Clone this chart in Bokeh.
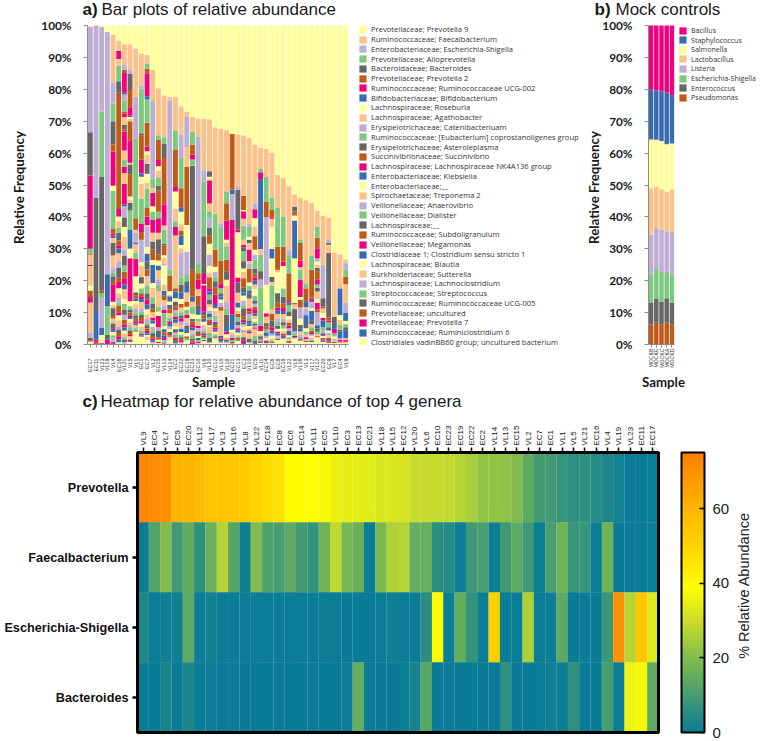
import numpy as np
from bokeh.plotting import figure
from bokeh.layouts import row, column
from bokeh.embed import file_html
from bokeh.resources import INLINE
from bokeh.models import (Legend, LegendItem, Label, ColumnDataSource, FixedTicker, ColorBar,
                          LinearColorMapper, Range1d)
from bokeh.core.properties import value

# colour codes of the repeating palette
Y, P, L, G, K, B, M, U = range(8)
ACCENT = ["#ffff99", "#fdc086", "#beaed4", "#7fc97f", "#666666", "#bf5b17", "#f0027f", "#386cb0"]

TAXA = ["Prevotellaceae; Prevotella 9", "Ruminococcaceae; Faecalbacterium", "Enterobacteriaceae; Escherichia-Shigella",
        "Prevotellaceae; Alloprevotella", "Bacteroidaceae; Bacteroides", "Prevotellaceae; Prevotella 2",
        "Ruminococcaceae; Ruminococcaceae UCG-002", "Bifidobacteriaceae; Bifidobacterium", "Lachnospiraceae; Roseburia",
        "Lachnospiraceae; Agathobacter", "Erysipelotrichaceae; Catenibacteriuam",
        "Ruminococcaceae; [Eubacterium] coprostanoligenes group", "Erysipelotrichaceae; Asteroleplasma",
        "Succinivibrionaceae; Succinivibrio", "Lachnospiraceae; Lachnospiraceae NK4A136 group",
        "Enterobacteriaceae; Klebsiella", "Enterobacteriaceae;__", "Spirochaetaceae; Treponema 2",
        "Veillonellaceae; Anaerovibrio", "Veillonellaceae; Dialister", "Lachnospiraceae;__",
        "Ruminococcaceae; Subdoligranulum", "Veillonellaceae; Megamonas", "Clostridiaceae 1; Clostridium sensu stricto 1",
        "Lachnospiraceae; Blautia", "Burkholderiaceae; Sutterella", "Lachnospiraceae; Lachnoclostridium",
        "Streptococcaceae; Streptococcus", "Ruminococcaceae; Ruminococcaceae UCG-005", "Prevotellaceae; uncultured",
        "Prevotellaceae; Prevotella 7", "Ruminococcaceae; Ruminiclostridium 6",
        "Clostridiales vadinBB60 group; uncultured bacterium"]

# each bar, read top-down as colour, percent pairs
EC17 = [Y,.3,L,33.2,K,13.5,M,23,G,1.5,B,.4,P,3.2,M,.3,P,6.2,Y,1.5,B,2,M,1.8,P,9.5,L,1,G,.5,B,.4,M,.4,U,.4]
EC11 = [L,54,K,35.5,U,9,M,.6,B,.5,M,.4]
VL23 = [Y,.5,L,26.5,G,20.5,K,35.5,B,1,G,1.5,L,9.2,U,2.3,Y,2.5,M,.3]
VL19 = [Y,2,L,76,U,10,G,9,K,1.5,M,1.4]
VL4 = [Y,3,P,15,L,6.5,G,5.5,K,7.2,B,2.3,M,10.7,Y,1.6,G,12,B,1.5,M,.6,U,.7,P,1.5,K,3.5,B,.5,P,4,L,1.5,G,1,K,1.5,B,1,M,5.5,Y,1,P,1,K,2.5,B,.8,P,1.5,K,1.5,M,.6,U,.6,Y,1,G,1,L,1,B,.5,M,.4]
EC16 = [Y,4.8,P,3.2,M,2.5,P,2,G,5,K,3.6,B,36.4,M,2.4,Y,1.5,P,2,G,1.5,K,2.5,B,1.5,M,1,U,1.5,P,2.5,L,2,K,3,B,1.5,M,2,Y,1.5,P,1.5,L,1.5,G,1,B,2,M,1,Y,1.5,P,2,L,1,K,1,B,1,M,1,U,1]
VL21 = [Y,5.9,P,6.5,L,1.5,B,1,M,6.2,U,.5,L,2,G,3.5,B,.6,M,1,P,2.5,K,1.5,B,.5,M,6,P,3,G,2,M,2,P,3.5,M,6.5,U,.5,L,3.5,K,3,Y,3,P,4,L,2,K,3,G,2,B,2,M,2,U,1.5,P,3,Y,1.5,G,2,K,1.5,L,1.5,B,1.5,M,1,U,1,Y,1,P,1,G,.8,K,.7,L,.6,M,.4]
VL5 = [Y,5.9,P,7.8,L,1.5,K,5,B,5.4,M,2.7,U,.4,Y,.6,P,.7,B,6,M,7,P,.6,K,3,B,7,Y,1,P,1,K,2.4,G,6,U,6,Y,3,M,13.5,Y,1.5,G,1.2,K,.8,B,.8,M,.6,U,.6,Y,1,P,1,L,.6,G,1,K,.8,B,.6,M,.5,P,.6,L,.4,K,.5,M,.3]
VL1 = [Y,7.2,P,15.1,L,13.2,G,24.9,B,3.6,P,1,L,3,K,.6,P,2.5,G,2,M,5.5,Y,5,K,1,B,1,U,.8,Y,1,P,1.5,L,1,G,1,K,1,B,.8,M,.6,U,.6,P,1,G,.6,B,.5,Y,.4]
EC1 = [Y,8.8,P,10.2,L,.8,G,14,K,.6,B,7.6,M,4.4,U,1,Y,2.2,P,4.6,G,7.9,M,2.6,B,2.5,L,7,Y,1.2,P,3.5,K,2,Y,1.5,G,1.5,B,1,M,.8,U,1,P,2,L,1,G,1,K,1,B,1,M,.8,Y,1,P,1,L,.6,G,.6,K,.5,M,.4]
EC7 = [Y,9.2,P,2.8,G,1.5,B,1.5,M,7.2,U,1,G,7.3,B,7.4,M,1.5,Y,1,P,3,K,3.1,Y,2.7,P,2,G,6,B,2.7,M,2.6,P,.5,L,6.5,Y,2,U,2.5,K,2.5,B,2,P,3,G,2.5,K,2,M,1.5,U,1.5,Y,1.5,P,1.5,L,1,G,1,K,1,B,.8,M,.7,U,.6,Y,.5,P,.5,L,.4]
VL2 = [Y,13.9,P,9.5,L,24.6,G,3,P,1.5,M,4.2,Y,1.6,G,2.7,M,4,P,2.7,K,2.6,B,3.2,Y,1.5,U,5.8,Y,1.5,P,3,G,2,K,1.5,B,1.2,P,1.5,M,1,U,1,Y,1,L,1,G,1,K,.8,B,.8,M,.6,U,.5,P,.5,L,.4]
EC15 = [Y,19.7,P,14.7,G,1.3,B,6.5,M,1.9,Y,1.5,P,2,G,2.6,K,1.6,B,6.6,G,2,M,4.6,P,2,K,4.7,B,2,Y,1.5,U,1.5,P,3,L,2,G,1.5,P,5,G,1.5,Y,1.3,M,3.7,L,1,K,1,U,1,B,.8,Y,.6,M,.4]
VL13 = [Y,21.9,P,13.1,G,2,K,4.5,B,14.5,M,6.7,P,1.3,G,4.5,K,.5,B,3,Y,.7,P,2,L,.5,Y,6,P,2,U,1.5,B,1.5,P,1.5,L,1.5,M,1,G,4,Y,1,K,1,B,1,U,.8,M,.7,L,.5,G,.5,K,.4,P,.4]
VL14 = [Y,22.3,P,1.4,L,52.7,G,2,B,4.9,Y,1,P,.6,U,1.6,Y,1,K,1.5,B,1.2,P,1.5,G,1,M,.8,U,.8,L,1,Y,.8,K,.6,B,.5,M,.4,P,.4]
EC2 = [Y,22.3,P,10.5,G,6.2,B,11.6,M,1.4,Y,5.4,P,4,G,1.8,M,2.6,P,16.6,B,1,U,2.1,Y,1,K,1.5,B,1.2,L,1,G,1.2,M,.8,U,1,P,1.2,Y,.8,K,1,L,.7,G,.8,B,.6,M,.5,U,.5,K,.4,Y,.3]
EC22 = [Y,25.3,P,8.9,L,7.3,G,9.5,B,6,U,1.4,Y,3.9,P,2,B,1.5,U,3,Y,1,P,1.5,L,7.7,G,2.2,K,2.5,U,2,Y,1.5,B,1.2,P,1.5,G,1,K,1,M,1,L,1,P,1.2,U,1,Y,.8,G,.8,K,.6,B,.6,M,.5,L,.4]
EC19 = [Y,27.1,P,1.6,L,9.5,P,6.1,B,18.2,Y,8.4,L,7.3,G,2,K,1.5,U,2,P,3,B,1.5,Y,1,G,1.5,M,1,P,1.5,L,1,K,1.2,U,1,Y,1,B,.8,G,.6]
EC23 = [Y,28.6,P,4.6,G,4.1,B,3.2,M,1.5,G,2,K,32.6,B,8.4,U,1.6,P,1.6,G,2.2,Y,1.5,K,1,B,1,M,.8,U,.8,P,1,L,.8,G,.8,K,.7,B,.6,M,.5]
EC10 = [Y,29.2,P,5.7,L,39.6,G,3.2,B,2,M,3,P,2,B,3,K,1.5,U,1.5,Y,1.2,G,1,P,1.2,M,.8,L,1,K,.8,B,.7,Y,.6,U,.6,G,.5,M,.4,P,.4]
VL6 = [Y,29.2,P,16.2,L,3.4,G,17.3,K,11.8,M,3.1,Y,.4,M,8.3,K,1.2,B,1,U,1,Y,1,P,1,L,.8,G,.8,M,.6,K,.6,B,.5,Y,.4,U,.4]
VL20 = [Y,29.4,P,16.3,K,1.7,Y,.7,P,.5,M,7.2,P,2.4,G,2.1,L,3,K,2.6,B,2.5,Y,3.4,L,3.6,Y,2,P,1.5,B,3.5,M,1,U,1,G,1.5,K,1.5,P,1,Y,1,L,1,U,1,G,.8,B,.7,M,.6,K,.5,Y,.4,P,2,G,1.5,K,1.5]
EC12 = [Y,31.9,P,27.1,G,11.3,B,5.3,Y,1.6,L,1.5,G,1.5,K,2,B,2.2,M,3.2,U,1,Y,.8,P,1.5,G,1,L,1,K,1,B,.8,M,.7,U,.6,Y,.5,P,.5,G,.5,K,.4,L,.3]
VL15 = [Y,32.4,P,29.6,L,1.5,G,10.2,B,7.1,M,1.6,G,1.5,K,1,U,1,Y,1,L,1.3,B,1.2,P,7.9,K,.8,M,.5,U,.5,L,.4]
VL18 = [Y,32.8,P,19.4,G,3.5,B,5.5,M,6,Y,1,P,1,G,4.2,B,3.6,K,2.7,Y,2,P,5,L,2,G,2,K,3.2,U,2,M,1,Y,.8,P,.8,K,.6,L,.6]
EC21 = [Y,33.9,B,17.6,U,1.3,L,8.2,M,29.7,U,4.7,Y,.8,P,.8,L,.8,K,.5,M,.4,G,.5,B,.5]
EC13 = [Y,34.2,P,16.2,L,1.1,K,12.5,M,.8,Y,14.2,M,1.6,K,3.2,P,3,U,1.6,Y,1,P,1,B,1,G,1.5,K,1,L,1,M,.7,U,.7,Y,.6,P,.6,G,.5,B,.4,K,.4]
EC3 = [Y,34.4,P,19,B,4.4,Y,.4,M,2.4,P,2.2,G,4.4,P,1.6,M,.8,K,1.2,G,3.1,K,2.3,Y,1,P,2,B,3,K,1.5,U,1,Y,1.5,L,1.5,G,1,K,2.5,B,1,M,.8,U,.7,P,1,Y,.6,L,.5,G,.4,P,1.5,K,1,M,.8,U,.5]
VL10 = [Y,35.2,P,27,L,.8,G,3.2,Y,1,K,1,P,2,M,3.6,P,1,L,1.5,B,4.3,Y,1,G,1.5,U,1,K,1.5,P,3,M,1,B,1,L,1,G,1,K,.8,U,.8,Y,.7,P,.6,B,.5,M,.4,L,.3,P,1.5,K,1,G,.5]
EC5 = [Y,37.3,P,18.4,L,1.9,M,2.8,Y,2.8,P,2.9,B,4.2,Y,1.5,L,1.5,G,3,K,1.5,B,1.2,M,1,U,1.2,P,1.5,Y,2,G,1.5,K,1,L,1,B,1,M,1,U,.8,P,1,Y,.8,G,.7,K,.6,L,.5,B,.4,M,.3,P,2,G,1.5,K,1]
VL11 = [Y,38.4,P,6.6,G,1,M,2.1,U,22,P,1.7,G,5.2,K,2.6,L,2.6,G,12,M,1.6,Y,.8,P,.8,K,.6,B,.5,L,.5,U,.5]
EC14 = [Y,38.7,P,8.8,G,7.8,B,4.7,L,21.3,Y,8.9,M,1.1,P,2,K,1,B,1,G,1,U,1,L,.8,Y,.6,M,.5,K,.4]
EC6 = [Y,40,P,14.1,G,3.7,B,2.3,M,.5,P,2.5,Y,7,U,2.9,Y,5.8,K,1.6,P,1.2,G,7.3,P,1.5,B,2.1,K,2.1,M,1,U,1,L,.8,Y,.7,P,.6,G,.5,B,.4]
EC8 = [Y,46.8,P,10.4,G,12.1,B,7.3,P,.8,Y,6.5,K,3,B,1.5,M,1,U,1,P,1.5,L,1,G,1.2,K,1,Y,.8,M,.7,U,.6,P,.5,L,.5,B,.4]
EC18 = [Y,47.8,P,12.1,G,9.4,B,4.7,M,1.4,Y,7,G,2.6,K,2.1,B,1.4,M,1,U,1,P,1.5,L,1,K,1,G,1,Y,.8,P,.7,B,.6,M,.5,U,.4,L,.4]
VL22 = [Y,50.4,P,19.9,L,1.7,G,5.7,B,8.7,M,.4,U,.8,G,2,K,1.5,Y,1,P,1,B,1,M,.8,L,.8,K,.7,U,.7,Y,.6,G,.6,P,.5,B,.4,M,.3]
VL8 = [Y,53,P,3.5,L,.3,K,1.5,B,1,M,.3,Y,1.5,U,11.9,Y,14,B,.4,P,1.5,K,7,L,.8,G,.6,M,.4,U,.4]
VL16 = [Y,54.1,P,12.9,G,1.2,B,5.5,M,2.1,P,.8,G,3.2,M,5.3,Y,.8,B,2.5,L,3.5,Y,2,K,1,U,1,P,1,L,.7,G,.5,M,.4,K,.3]
VL3 = [Y,54.8,P,26,G,1.6,B,3.7,K,.6,U,1.6,P,.4,L,2.1,U,3.1,K,1,Y,1,G,1,P,.8,M,.6,L,.5,B,.5]
VL17 = [Y,55.5,P,16.7,G,4.4,B,8.7,K,.5,M,.8,L,2,Y,.8,U,3.2,K,1,P,1,G,1,B,.8,M,.5,L,.5,Y,.4,P,1,U,.5]
VL12 = [Y,58,P,5,G,3.5,B,3.3,M,3.2,L,1,Y,1,P,1,K,1,B,2.6,M,1.6,G,1,K,1.2,P,2.5,Y,1,M,2.1,B,1,L,4,U,1,K,1,G,.8,P,.6,M,.4]
EC20 = [Y,59.6,P,15.4,L,10.5,K,2.6,B,.6,P,1.5,Y,1.5,M,.8,U,2,G,1,L,1,K,.8,Y,.6,B,.5,M,.4,U,.4]
EC9 = [Y,60.2,P,6.8,L,1.2,K,.5,P,2.6,K,20.2,B,1,M,.6,G,1.5,U,1,Y,.8,L,.8,P,.8,K,.6,B,.5,M,.4]
VL7 = [Y,71.1,P,20.2,K,2.6,U,1.2,M,1.4,G,1,Y,.6,L,.6,P,.5,B,.4]
EC4 = [Y,71.7,P,10.7,U,8.4,Y,1.5,P,1.5,G,1.6,K,.6,U,2,L,.6,M,.5,B,.3]
VL9 = [Y,73.3,P,1.2,L,2.1,G,2.1,B,2.4,P,5.9,L,3,U,2.6,Y,1,G,1,K,.9,U,2.5,P,.6,M,.5,B,.3]

SAMPLES = ["EC17","EC11","VL23","VL19","VL4","EC16","VL21","VL5","VL1","EC1","EC7","VL2","EC15","VL13","VL14","EC2",
           "EC22","EC19","EC23","EC10","VL6","VL20","EC12","VL15","VL18","EC21","EC13","EC3","VL10","EC5","VL11","EC14",
           "EC6","EC8","EC18","VL22","VL8","VL16","VL3","VL17","VL12","EC20","EC9","VL7","EC4","VL9"]
BARS = [EC17,EC11,VL23,VL19,VL4,EC16,VL21,VL5,VL1,EC1,EC7,VL2,EC15,VL13,VL14,EC2,EC22,EC19,EC23,EC10,VL6,VL20,EC12,VL15,
        VL18,EC21,EC13,EC3,VL10,EC5,VL11,EC14,EC6,EC8,EC18,VL22,VL8,VL16,VL3,VL17,VL12,EC20,EC9,VL7,EC4,VL9]

# mock controls, bottom to top
MOCKS = ["MOCKB", "MOCKE", "MOCKC", "MOCKA", "MOCKD"]
MOCK_TAXA = ["Pseudomonas", "Enterococcus", "Escherichia-Shigella", "Listeria", "Lactobacillus", "Salmonella", "Staphylococcus", "Bacillus"]
Pseudomonas = [6.3, 6.8, 6.2, 6.8, 6.2]
Enterococcus = [6.7, 7.5, 7.3, 7.7, 7.0]
Escherichia = [9.0, 9.4, 9.2, 8.3, 8.8]
Listeria = [12.5, 12.8, 13.3, 12.7, 13.3]
Lactobacillus = [14.5, 13.0, 12.7, 12.5, 13.4]
Salmonella = [15.3, 14.7, 15.1, 14.8, 14.3]
Staphylococcus = [15.7, 15.4, 15.6, 16.2, 15.2]
Bacillus = [20.0, 20.4, 20.6, 21.0, 21.8]
MOCK_VALUES = [Pseudomonas, Enterococcus, Escherichia, Listeria, Lactobacillus, Salmonella, Staphylococcus, Bacillus]
MOCK_COLORS = [ACCENT[B], ACCENT[K], ACCENT[G], ACCENT[L], ACCENT[P], ACCENT[Y], ACCENT[U], ACCENT[M]]

# heat map
HEAT_SAMPLES = SAMPLES[::-1]
GENERA = ["Prevotella", "Faecalbacterium", "Escherichia-Shigella", "Bacteroides"]
Prevotella = [73,72,71,60,59.6,58,55.5,54.8,54.1,53,50.4,47.8,46.8,40,38.7,38.4,37.3,35.2,34.4,34.2,33.9,32.8,32.4,31.9,29.4,29.2,29.2,28.6,27.1,25.3,22.3,22.3,21.9,19.7,13.9,9.2,8.8,7.2,5.9,5.9,4.8,3,2,.5,0,.3]
Faecalbacterium = [.5,12,20,9,14.5,6,16,27,12.5,1,20,11,10,14,9,7,17,28,18,16,.5,19,26,27,15,15.5,5.5,4.5,.5,8.5,10,.3,9,14,8.5,.5,10,17,7.5,7.5,.5,17,0,0,0,.3]
Escherichia_Shigella = [3.5,.3,1,1,14,.3,1.5,.3,.3,.3,.8,.3,.3,.3,.3,.2,.8,.3,.2,.2,.2,.3,1,.3,.3,5.5,40,.3,15,7,.3,51,.3,.3,26,.3,.3,14,.2,.2,.2,8,70,27,55,33]
Bacteroides = [.3,.2,2.5,.3,3,.3,.3,.2,.3,.2,.2,.2,.2,.2,.2,.2,.2,.2,.3,15,.2,.2,.2,.3,2.5,13,.2,.2,.2,.2,.2,.2,6,.2,.2,.3,1,.5,6,.2,.2,10,.3,36,37,14]
HEAT = [Prevotella, Faecalbacterium, Escherichia_Shigella, Bacteroides]

CMAP_STOPS = [0, 10, 20, 30, 39, 50, 62, 75]
CMAP_COLORS = [(10,124,151), (72,158,112), (130,188,78), (205,222,42), (255,255,0), (255,212,0), (255,175,0), (255,128,0)]

TICK = "Lato"
SANS = "Liberation Sans"
NOTE = "Open Sans"
GRAY = "#8c8c8c"
DARK = "#1a1a1a"


def make_fig(w, h, left, right, bottom, top, x_px, y_px, x_loc="below"):
    """Figure whose frame fills the canvas; data (left..right, bottom..top) sits at pixel box x_px, y_px."""
    ux = (x_px[1] - x_px[0]) / (right - left)
    uy = (y_px[1] - y_px[0]) / (top - bottom)
    xr = Range1d(left - x_px[0] / ux, right + (w - x_px[1]) / ux)
    yr = Range1d(bottom - (h - y_px[1]) / uy, top + y_px[0] / uy)
    p = figure(width=w, height=h, x_range=xr, y_range=yr, output_backend="svg", toolbar_location=None,
               x_axis_location=x_loc,
               min_border=0, min_border_left=0, min_border_right=0, min_border_top=0, min_border_bottom=0)
    p.grid.visible = False
    p.outline_line_color = None
    return p


def style_bar_axes(p, n, names, xsize, xstand):
    ax, ay = p.xaxis[0], p.yaxis[0]
    ax.fixed_location = 0
    ay.fixed_location = 0
    ax.bounds = (0, n)
    ay.bounds = (0, 100)
    ay.ticker = FixedTicker(ticks=list(range(0, 101, 10)))
    ay.major_label_overrides = {i: f"{i}%" for i in range(0, 101, 10)}
    ay.major_label_text_font = TICK
    ay.major_label_text_font_style = "bold"
    ay.major_label_text_font_size = "11.8px"
    ay.major_label_text_color = DARK
    ay.major_label_standoff = 12
    ay.major_tick_out = 4
    ay.major_tick_in = 0
    ay.minor_tick_line_color = None
    ay.axis_line_color = GRAY
    ay.major_tick_line_color = GRAY
    ax.ticker = FixedTicker(ticks=[i + .5 for i in range(n)])
    ax.major_label_overrides = {i + .5: names[i] for i in range(n)}
    ax.major_label_orientation = np.pi / 2
    ax.major_label_text_font = SANS
    ax.major_label_text_font_size = xsize
    ax.major_label_text_color = "#333333"
    ax.major_label_standoff = xstand
    ax.major_tick_out = 3
    ax.major_tick_in = 0
    ax.minor_tick_line_color = None
    ax.axis_line_color = GRAY
    ax.major_tick_line_color = GRAY


def text_at(p, x, y, text, **kw):
    """Free text at canvas pixels, y measured up from the canvas bottom."""
    args = dict(x_units="screen", y_units="screen", text_font=SANS, text_baseline="middle", text_color=DARK)
    args.update(kw)
    p.add_layout(Label(x=x, y=y, text=text, **args))


def add_title(p, h, x, y, tag, text, xoff):
    text_at(p, x, h - y, tag, text_font_size="17px", text_font_style="bold")
    text_at(p, x + xoff, h - y, text, text_font_size="17px")


def add_row_legend(p, h, label, renderer, x, centre, size):
    lg = Legend(items=[LegendItem(label=value(label), renderers=[renderer])], location=(x, h - centre - 4.5),
                orientation="vertical", padding=0, margin=0, spacing=0, glyph_width=9, glyph_height=9, label_height=9,
                label_standoff=4, label_text_font=NOTE, label_text_font_size=size, label_text_color="#333333",
                background_fill_alpha=0, border_line_color=None)
    p.add_layout(lg, "center")


def add_axis_labels(p, h, xlab, ylab):
    text_at(p, ylab, h - 187, "Relative Frequency", text_font=TICK, text_font_style="bold", text_font_size="13.3px",
            angle=np.pi / 2, text_align="center")
    text_at(p, xlab, h - 381, "Sample", text_font=TICK, text_font_style="bold", text_font_size="13.3px", text_align="center")


# ---------- a) bars ----------
A_W, A_H = 583, 390
a = make_fig(A_W, A_H, 0, 46, 0, 100, (87, 348), (25, 344))
style_bar_axes(a, 46, SAMPLES, "5.4px", 11)

groups = {}
for pos, bar in enumerate(BARS):
    top, idx = 100.0, -1
    pairs = list(zip(bar[0::2], bar[1::2]))
    total = sum(v for _, v in pairs)
    if total < 100:
        pairs.append((Y, 100 - total))
    for colour, val in pairs:
        idx += 1
        while idx % 8 != colour:
            idx += 1
        key = idx if idx < len(TAXA) else ("rest", colour)
        g = groups.setdefault(key, dict(x=[], top=[], bottom=[]))
        bot = max(top - val, 0.0)
        g["x"].append(pos + .5)
        g["top"].append(top)
        g["bottom"].append(bot)
        top = bot

for key, g in groups.items():
    if isinstance(key, tuple):
        a.vbar(x="x", top="top", bottom="bottom", width=0.86, source=ColumnDataSource(g), fill_color=ACCENT[key[1]], line_color=None)
rend = {}
for i in reversed(range(len(TAXA))):
    g = groups.get(i, dict(x=[], top=[], bottom=[]))
    rend[i] = a.vbar(x="x", top="top", bottom="bottom", width=0.86, source=ColumnDataSource(g), fill_color=ACCENT[i % 8], line_color=None)

PITCH_A, FIRST_A = 9.77, 29.8
for i, name in enumerate(TAXA):
    add_row_legend(a, A_H, name, rend[i], 358, FIRST_A + PITCH_A * i, "7.6px")
add_title(a, A_H, 82, 9, "a)", "Bar plots of relative abundance", 19)
add_axis_labels(a, A_H, 213, 18)

# ---------- b) mock ----------
B_W = 176
b = make_fig(B_W, A_H, 0, 5, 0, 100, (65, 91), (25, 344))
style_bar_axes(b, 5, MOCKS, "5.2px", 1)
stack = {"x": [i + .5 for i in range(5)]}
for n, vals in zip(MOCK_TAXA, MOCK_VALUES):
    stack[n] = vals
mock_r = b.vbar_stack(MOCK_TAXA, x="x", width=0.86, source=ColumnDataSource(stack), color=MOCK_COLORS, line_color=None)
for j, r in enumerate(reversed(mock_r)):
    add_row_legend(b, A_H, MOCK_TAXA[::-1][j], r, 678 - 583, 30.7 + 9.57 * j, "7.1px")
add_title(b, A_H, 594 - 583, 9, "b)", "Mock controls", 21)
add_axis_labels(b, A_H, 663 - 583, 10)

# ---------- c) heat map ----------
C_W, C_H = 760, 350
rgb = np.array(CMAP_COLORS, dtype=float)
vals = np.linspace(0, 75, 256)
palette = ["#%02x%02x%02x" % tuple(int(round(np.interp(v, CMAP_STOPS, rgb[:, k]))) for k in range(3)) for v in vals]
mapper = LinearColorMapper(palette=palette, low=0, high=75)

c = make_fig(C_W, C_H, 0, 46, 0, 4, (137, 658), (452 - 390, 732 - 390), x_loc="above")
xs, ys, vs = [], [], []
for r_i, series in enumerate(HEAT):
    for s_i, v in enumerate(series):
        xs.append(s_i + .5); ys.append(3.5 - r_i); vs.append(v)
c.rect(x="x", y="y", width=1.01, height=1.005, source=ColumnDataSource(dict(x=xs, y=ys, v=vs)),
       fill_color={"field": "v", "transform": mapper}, line_color=None)
c.quad(left=[0], right=[46], bottom=[0], top=[4], fill_color=None, line_color="black", line_width=3)

cx, cy = c.xaxis[0], c.yaxis[0]
cx.fixed_location = 4
cy.fixed_location = 0
cx.bounds = (0, 46)
cy.bounds = (0, 4)
cx.ticker = FixedTicker(ticks=[i + .5 for i in range(46)])
cx.major_label_overrides = {i + .5: HEAT_SAMPLES[i] for i in range(46)}
cx.major_label_orientation = np.pi / 2
cx.major_label_text_font = SANS
cx.major_label_text_font_size = "8px"
cx.major_label_text_color = "#111111"
cx.major_label_standoff = 2
cx.major_tick_out = 5
cx.major_tick_in = 0
cx.major_tick_line_color = "black"
cx.major_tick_line_width = 1.5
cx.minor_tick_line_color = None
cx.axis_line_color = "black"
cy.ticker = FixedTicker(ticks=[.5, 1.5, 2.5, 3.5])
cy.major_label_overrides = {3.5 - i: GENERA[i] for i in range(4)}
cy.major_label_text_font = SANS
cy.major_label_text_font_style = "bold"
cy.major_label_text_font_size = "12.7px"
cy.major_label_text_color = "#111111"
cy.major_label_standoff = 4
cy.major_tick_out = 5
cy.major_tick_in = 0
cy.major_tick_line_color = "black"
cy.major_tick_line_width = 2.5
cy.minor_tick_line_color = None
cy.axis_line_color = "black"

cb = ColorBar(color_mapper=mapper, width=23, height=280, location=(681, C_H - (732 - 390)), padding=0, margin=0,
              ticker=FixedTicker(ticks=[0, 20, 40, 60]), major_label_text_font=SANS, major_label_text_font_size="15px",
              major_label_text_color="#222222", major_tick_line_color="black", major_tick_in=5, major_tick_out=0,
              major_tick_line_width=1.5, label_standoff=8, bar_line_color="black", bar_line_width=2,
              minor_tick_line_color=None)
c.add_layout(cb, "center")
text_at(c, 743, C_H - 195, "% Relative Abundance", angle=np.pi / 2, text_font_size="14.5px", text_align="center", text_color="#222222")
add_title(c, C_H, 82, 11, "c)", "Heatmap for relative abundance of top 4 genera", 18)

page = column(row(a, b), c)
open("out.html", "w").write(file_html(page, INLINE))
